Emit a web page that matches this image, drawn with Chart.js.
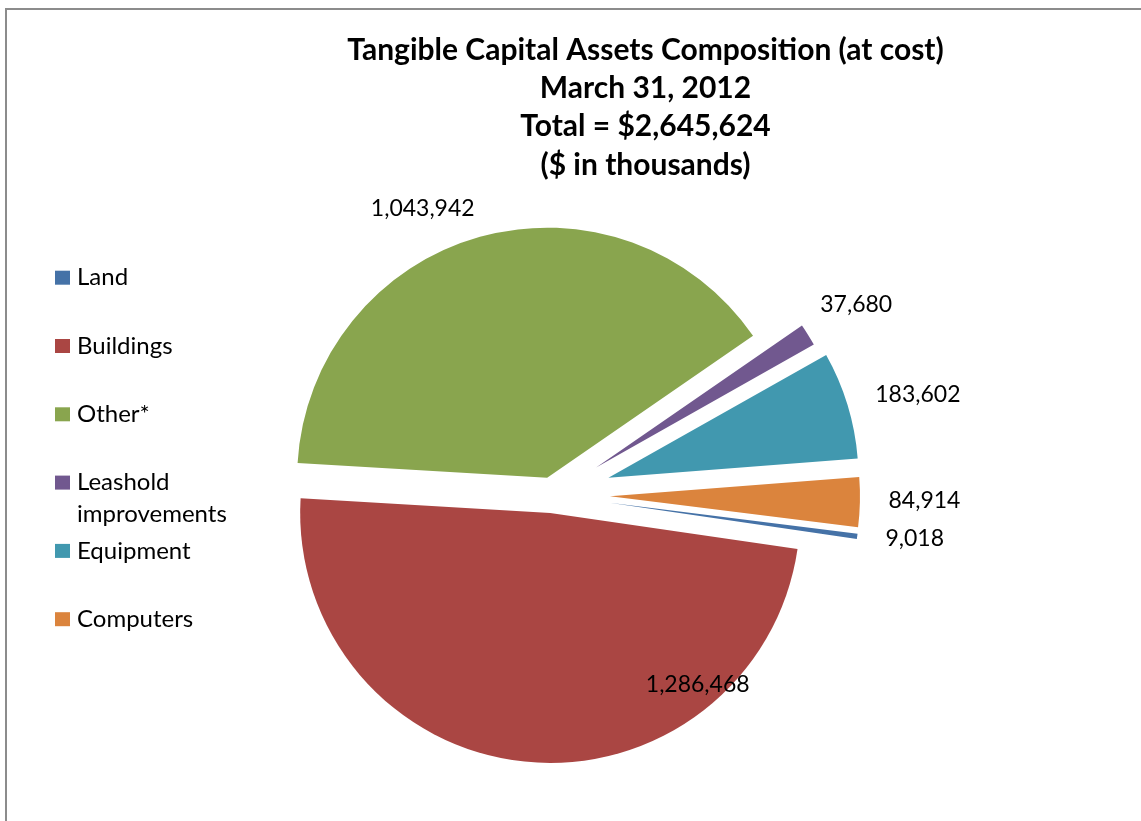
<!DOCTYPE html>
<html>
<head>
<meta charset="utf-8">
<title>Tangible Capital Assets Composition</title>
<script src="https://cdn.jsdelivr.net/npm/chart.js@4.4.1/dist/chart.umd.min.js"></script>
<style>
  html, body { margin: 0; padding: 0; background: #fff; overflow: hidden; }
  #frame {
    position: absolute; left: 5px; top: 8px; width: 1200px; height: 900px;
    border-left: 2px solid #8c8c8c; border-top: 2px solid #8c8c8c;
  }
  #wrap { position: absolute; left: 0; top: 0; width: 1141px; height: 821px; }
</style>
</head>
<body>
<div id="frame"></div>
<div id="wrap"><canvas id="assetsChart"></canvas></div>
<script>
const categories = ["Land", "Buildings", "Other*", "Leashold improvements", "Equipment", "Computers"];
const amounts = [9018, 1286468, 1043942, 37680, 183602, 84914];
const sliceColors = ["#4572A7", "#AA4643", "#89A54E", "#71588F", "#4198AF", "#DB843D"];

const total = amounts.reduce((a, b) => a + b, 0);
const titleLines = [
  "Tangible Capital Assets Composition (at cost)",
  "March 31, 2012",
  "Total = $" + total.toLocaleString("en-US"),
  "($ in thousands)",
];

// pull-out of each slice from the pie centre (px)
const explode = [58, 18, 18, 52, 59, 58];
// value labels: distance as a share of the radius, and a turn away from the slice middle (deg)
const labelDist = [1.229, 0.906, 1.187, 1.227, 1.282, 1.258];
const labelTurn = [-1.1, -46.5, -9.2, 0, 1.85, -0.6];

const FONT = "Lato, 'Open Sans', sans-serif";

// exploded slices: move every arc's centre along its own middle angle
const explodePlugin = {
  id: "explode",
  beforeDatasetDraw(chart, args) {
    const area = chart.chartArea;
    const cx = (area.left + area.right) / 2;
    const cy = (area.top + area.bottom) / 2;
    args.meta.data.forEach((arc, i) => {
      const mid = (arc.startAngle + arc.endAngle) / 2;
      arc.x = cx + Math.cos(mid) * explode[i];
      arc.y = cy + Math.sin(mid) * explode[i];
    });
  },
};

// amounts written next to the slices
const valueLabels = {
  id: "valueLabels",
  afterDatasetsDraw(chart) {
    const ctx = chart.ctx;
    const meta = chart.getDatasetMeta(0);
    ctx.save();
    ctx.font = "23px " + FONT;
    ctx.fillStyle = "#000";
    ctx.textAlign = "center";
    ctx.textBaseline = "middle";
    meta.data.forEach((arc, i) => {
      const a = (arc.startAngle + arc.endAngle) / 2 + labelTurn[i] * Math.PI / 180;
      const r = arc.outerRadius * labelDist[i];
      const v = chart.data.datasets[0].data[i];
      ctx.fillText(v.toLocaleString("en-US"), arc.x + Math.cos(a) * r, arc.y + Math.sin(a) * r);
    });
    ctx.restore();
  },
};

// title block and the legend on the left
const sideText = {
  id: "sideText",
  afterDraw(chart) {
    const ctx = chart.ctx;
    ctx.save();
    ctx.fillStyle = "#000";
    ctx.textBaseline = "middle";

    ctx.font = "bold 30px " + FONT;
    ctx.textAlign = "center";
    titleLines.forEach((t, i) => ctx.fillText(t, 645.5, 50 + i * 38.4));

    ctx.font = "24px " + FONT;
    ctx.textAlign = "left";
    const colors = chart.data.datasets[0].backgroundColor;
    chart.data.labels.forEach((name, i) => {
      const y = 277.7 + i * 68.3;
      ctx.fillStyle = colors[i];
      ctx.fillRect(55, y - 7, 15, 14);
      ctx.fillStyle = "#000";
      // wrap long names the way a narrow legend box does
      const words = name.split(" ");
      const lines = [];
      let line = "";
      words.forEach((w) => {
        const test = line ? line + " " + w : w;
        if (line && ctx.measureText(test).width > 175) {
          lines.push(line);
          line = w;
        } else {
          line = test;
        }
      });
      lines.push(line);
      lines.forEach((l, k) => ctx.fillText(l, 77, y + k * 31.5));
    });
    ctx.restore();
  },
};

function build() {
  Chart.defaults.font.family = FONT;
  new Chart(document.getElementById("assetsChart"), {
    type: "pie",
    data: {
      labels: categories,
      datasets: [
        {
          data: amounts,
          backgroundColor: sliceColors,
          borderWidth: 0,
        },
      ],
    },
    options: {
      responsive: true,
      maintainAspectRatio: false,
      animation: false,
      events: [],
      rotation: 97.1,
      radius: 250,
      layout: { padding: { left: 0, right: 37, top: 169, bottom: 0 } },
      plugins: {
        legend: { display: false },
        title: { display: false },
        tooltip: { enabled: false },
      },
    },
    plugins: [explodePlugin, valueLabels, sideText],
  });
}

Promise.all([
  document.fonts.load("24px Lato"),
  document.fonts.load("bold 30px Lato"),
]).then(build, build);
</script>
</body>
</html>
